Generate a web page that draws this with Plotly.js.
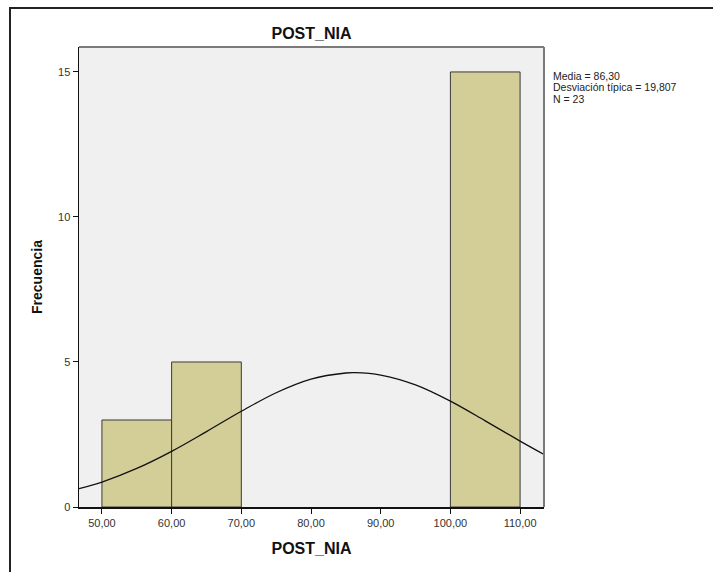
<!DOCTYPE html>
<html>
<head>
<meta charset="utf-8">
<script src="https://cdn.plot.ly/plotly-3.0.1.min.js"></script>
<style>
html,body{margin:0;padding:0;background:#fff;}
#frame{position:absolute;left:9px;top:7px;width:720px;height:580px;border-left:2px solid #222;border-top:2px solid #222;box-sizing:border-box;pointer-events:none;z-index:5;}
#chart{position:absolute;left:0;top:0;width:713px;height:572px;}
</style>
</head>
<body>
<div id="chart"></div>
<div id="frame"></div>
<script>
// Histogram bins (lower edge, upper edge) and counts
const binStarts = [50, 60, 100];
const binEnds = [60, 70, 110];
const counts = [3, 5, 15];

// Normal curve points
const curveX = [46.71, 50, 55, 60, 65, 70, 75, 80, 85, 86.3, 90, 95, 100, 105, 110, 113.43];
const curveY = [0.63, 0.86, 1.33, 1.92, 2.60, 3.30, 3.94, 4.41, 4.62, 4.63, 4.55, 4.21, 3.65, 2.97, 2.27, 1.81];

const xTickVals = [50, 60, 70, 80, 90, 100, 110];
const xTickText = ['50,00', '60,00', '70,00', '80,00', '90,00', '100,00', '110,00'];
const yTickVals = [0, 5, 10, 15];

const statsLines = ['Media = 86,30', 'Desviación típica = 19,807', 'N = 23'];

const centers = binStarts.map((s, i) => (s + binEnds[i]) / 2);
const widths = binStarts.map((s, i) => binEnds[i] - s);

const traces = [
  {
    type: 'bar', x: centers, y: counts, width: widths,
    marker: {color: '#D3CE97', line: {color: '#3a3a3a', width: 1}},
    hoverinfo: 'skip', showlegend: false
  },
  {
    type: 'scatter', mode: 'lines', x: curveX, y: curveY,
    line: {color: '#111', width: 1.3, shape: 'spline'},
    hoverinfo: 'skip', showlegend: false
  }
];

const statsY = [0.9370, 0.9120, 0.8870];
const statsAnn = statsLines.map((t, i) => ({
  xref: 'paper', yref: 'paper', x: 1.017, y: statsY[i], xanchor: 'left', yanchor: 'middle',
  align: 'left', showarrow: false, text: t, borderpad: 0,
  font: {size: 10.5, color: '#222', family: 'Liberation Sans, Arial, sans-serif'}
}));

const layout = {
  width: 713, height: 572,
  margin: {l: 79, r: 169, t: 47, b: 65},
  paper_bgcolor: '#ffffff',
  plot_bgcolor: '#F0F0F0',
  font: {family: 'Liberation Sans, Arial, sans-serif', color: '#333', size: 11},
  bargap: 0,
  title: {
    text: '<b>POST_NIA</b>', x: 0.5, xref: 'paper', y: 1, yref: 'paper', yanchor: 'bottom',
    pad: {b: 8},
    font: {family: 'Liberation Sans, Arial, sans-serif', size: 16, color: '#111'}
  },
  xaxis: {
    range: [46.71, 113.43], showgrid: false, zeroline: false,
    showline: true, linecolor: '#111', linewidth: 1.5,
    ticks: 'outside', ticklen: 5, tickcolor: '#111', tickwidth: 1,
    tickvals: xTickVals, ticktext: xTickText,
    tickfont: {size: 11, color: '#333'},
    title: {text: '<b>POST_NIA</b>', standoff: 15, font: {size: 16, color: '#111'}}
  },
  yaxis: {
    range: [0, 15.86], showgrid: false, zeroline: false,
    showline: true, linecolor: '#111', linewidth: 1.5,
    ticks: 'outside', ticklen: 5, tickcolor: '#111', tickwidth: 1,
    tickvals: yTickVals,
    tickfont: {size: 11, color: '#333'},
    title: {text: '<b>Frecuencia</b>', standoff: 12, font: {size: 14, color: '#111'}}
  },
  shapes: [
    {type: 'line', xref: 'paper', yref: 'paper', x0: 0, x1: 1, y0: 1, y1: 1, line: {color: '#7a7a7a', width: 2}},
    {type: 'line', xref: 'paper', yref: 'paper', x0: 1, x1: 1, y0: 0, y1: 1, line: {color: '#7a7a7a', width: 2}}
  ],
  annotations: statsAnn
};

Plotly.newPlot('chart', traces, layout, {displayModeBar: false, staticPlot: true});
</script>
</body>
</html>
